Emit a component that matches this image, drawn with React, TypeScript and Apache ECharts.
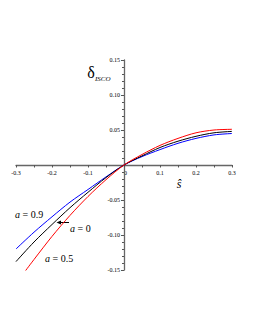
import React, { useEffect, useRef } from "react";
import * as echarts from "echarts";

const sValues = [-0.3, -0.25, -0.2, -0.15, -0.1, -0.05, 0, 0.05, 0.1, 0.15, 0.2, 0.25, 0.3];
const redS = [-0.275, -0.25, -0.2, -0.15, -0.1, -0.05, 0, 0.05, 0.1, 0.15, 0.2, 0.25, 0.3];
const deltaA09 = [-0.12, -0.096, -0.074, -0.053, -0.035, -0.017, 0, 0.012, 0.022, 0.031, 0.038, 0.043, 0.045];
const deltaA0 = [-0.138, -0.11, -0.085, -0.061, -0.039, -0.018, 0, 0.013, 0.025, 0.034, 0.041, 0.046, 0.048];
const deltaA05 = [-0.152, -0.135, -0.102, -0.072, -0.045, -0.021, 0, 0.015, 0.028, 0.038, 0.046, 0.05, 0.051];
const seriesNames = ["a = 0.9", "a = 0", "a = 0.5"];
const originLabel = "0";

const SERIF = "'Liberation Serif', 'DejaVu Serif', serif";

const GRID_LEFT = 16;
const GRID_RIGHT = 23;
const GRID_TOP = 60;
const GRID_BOTTOM = 60;
const W = 255;
const H = 330;

export default function App() {
  const ref = useRef<HTMLDivElement>(null);
  useEffect(() => {
    if (!ref.current) return;
    const chart = echarts.init(ref.current, undefined, { renderer: "svg" });
    const pair = (xs: number[], ys: number[]) => xs.map((x, i) => [x, ys[i]]);
    const plotW = W - GRID_LEFT - GRID_RIGHT;
    const plotH = H - GRID_TOP - GRID_BOTTOM;
    const xMin = -0.3, xMax = 0.3, yMin = -0.15, yMax = 0.15;
    const yOffset = -((0 - xMin) / (xMax - xMin)) * plotW; // move y axis to x = 0
    const xOffset = -((0 - yMin) / (yMax - yMin)) * plotH; // move x axis to y = 0
    chart.setOption({
      animation: false,
      backgroundColor: "#ffffff",
      grid: { left: GRID_LEFT, right: GRID_RIGHT, top: GRID_TOP, bottom: GRID_BOTTOM, containLabel: false },
      xAxis: {
        type: "value",
        position: "bottom",
        offset: xOffset,
        min: xMin,
        max: xMax,
        interval: 0.1,
        axisLine: { onZero: false, lineStyle: { color: "#666", width: 1.3 } },
        axisTick: { show: true, length: 2.5, lineStyle: { color: "#555", width: 1 } },
        minorTick: { show: true, splitNumber: 2, length: 2.5, lineStyle: { color: "#555", width: 1 } },
        splitLine: { show: false },
        axisLabel: {
          margin: 5,
          fontSize: 6,
          fontFamily: SERIF,
          color: "#000",
          formatter: (v: number) => (Math.abs(v) < 1e-9 ? "" : v.toFixed(1)),
        },
      },
      yAxis: {
        type: "value",
        position: "left",
        offset: yOffset,
        min: yMin,
        max: yMax,
        interval: 0.05,
        axisLine: { onZero: false, lineStyle: { color: "#666", width: 1.3 } },
        axisTick: { show: true, length: 3, lineStyle: { color: "#555", width: 1 } },
        minorTick: { show: true, splitNumber: 5, length: 2, lineStyle: { color: "#555", width: 1 } },
        splitLine: { show: false },
        axisLabel: {
          margin: 4,
          fontSize: 6,
          fontFamily: SERIF,
          color: "#000",
          formatter: (v: number) => (Math.abs(v) < 1e-9 ? "" : v.toFixed(2)),
        },
      },
      series: [
        {
          name: seriesNames[0],
          type: "line",
          data: pair(sValues, deltaA09),
          smooth: 0.3,
          showSymbol: false,
          lineStyle: { color: "#0000ff", width: 1 },
          clip: true,
        },
        {
          name: seriesNames[1],
          type: "line",
          data: pair(sValues, deltaA0),
          smooth: 0.3,
          showSymbol: false,
          lineStyle: { color: "#000000", width: 1 },
          clip: true,
        },
        {
          name: seriesNames[2],
          type: "line",
          data: pair(redS, deltaA05),
          smooth: 0.3,
          showSymbol: false,
          lineStyle: { color: "#ff0000", width: 1 },
          clip: true,
        },
      ],
      graphic: [
        {
          type: "text",
          x: 124,
          y: 173,
          style: { text: originLabel, fontSize: 6, fontFamily: SERIF, fill: "#000", align: "left", verticalAlign: "middle", textAlign: "left", textVerticalAlign: "middle" },
        },
        {
          type: "text",
          x: 91,
          y: 72,
          style: { text: "δ", fontSize: 16, fontFamily: SERIF, fill: "#000", align: "center", verticalAlign: "middle", textAlign: "center", textVerticalAlign: "middle" },
        },
        {
          type: "text",
          x: 95,
          y: 79,
          style: { text: "ISCO", fontSize: 7, fontStyle: "italic", fontFamily: SERIF, fill: "#000", align: "left", verticalAlign: "middle", textAlign: "left", textVerticalAlign: "middle" },
        },
        {
          type: "text",
          x: 179,
          y: 184,
          style: { text: "ŝ", fontSize: 12, fontStyle: "italic", fontFamily: SERIF, fill: "#000", align: "center", verticalAlign: "middle", textAlign: "center", textVerticalAlign: "middle" },
        },
        {
          type: "text",
          x: 15,
          y: 214.5,
          style: {
            text: "{i|a} = 0.9",
            rich: { i: { fontStyle: "italic", fontSize: 10, fontFamily: SERIF } },
            fontSize: 10, fontFamily: SERIF, fill: "#000", align: "left", verticalAlign: "middle", textAlign: "left", textVerticalAlign: "middle",
          },
        },
        {
          type: "text",
          x: 70,
          y: 228,
          style: {
            text: "{i|a} = 0",
            rich: { i: { fontStyle: "italic", fontSize: 10, fontFamily: SERIF } },
            fontSize: 10, fontFamily: SERIF, fill: "#000", align: "left", verticalAlign: "middle", textAlign: "left", textVerticalAlign: "middle",
          },
        },
        {
          type: "text",
          x: 45,
          y: 258,
          style: {
            text: "{i|a} = 0.5",
            rich: { i: { fontStyle: "italic", fontSize: 10, fontFamily: SERIF } },
            fontSize: 10, fontFamily: SERIF, fill: "#000", align: "left", verticalAlign: "middle", textAlign: "left", textVerticalAlign: "middle",
          },
        },
        {
          type: "line",
          shape: { x1: 69, y1: 222.5, x2: 59, y2: 222.5 },
          style: { stroke: "#000", lineWidth: 1 },
        },
        {
          type: "polygon",
          shape: { points: [[56.5, 222.5], [61, 220.5], [61, 224.5]] },
          style: { fill: "#000" },
        },
      ],
    });
    return () => chart.dispose();
  }, []);
  return <div ref={ref} style={{ position: "fixed", left: 0, top: 0, width: W, height: H }} />;
}
